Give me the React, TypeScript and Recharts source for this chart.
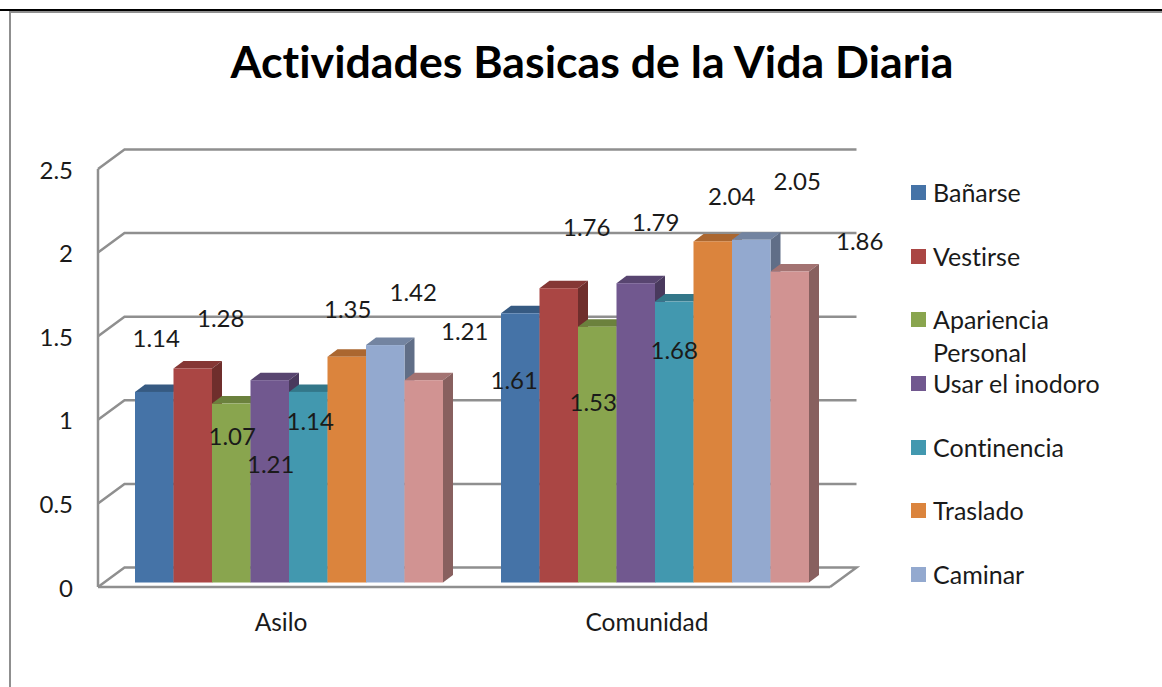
import { Bar, CartesianGrid, ComposedChart, LabelList, Legend, XAxis, YAxis } from "recharts";

const categories = ["Asilo", "Comunidad"];
const yTicks = [0, 0.5, 1, 1.5, 2, 2.5];

const banarse = [1.14, 1.61];
const vestirse = [1.28, 1.76];
const apariencia = [1.07, 1.53];
const inodoro = [1.21, 1.79];
const continencia = [1.14, 1.68];
const traslado = [1.35, 2.04];
const caminar = [1.42, 2.05];
// eighth series: its legend entry is cut off in the original
const sinNombre = [1.21, 1.86];

const seriesNames = ["Bañarse", "Vestirse", "Apariencia Personal", "Usar el inodoro", "Continencia", "Traslado", "Caminar", "Otra"];
const seriesValues = [banarse, vestirse, apariencia, inodoro, continencia, traslado, caminar, sinNombre];
const seriesColors = ["#4573A7", "#AA4644", "#89A54E", "#71588F", "#4298AF", "#DB843D", "#93A9CF", "#D19392"];

const chartData = categories.map((name, c) => {
  const row: Record<string, string | number> = { name };
  seriesNames.forEach((s, i) => {
    row[s] = seriesValues[i][c];
  });
  return row;
});

// the data labels were dragged by hand in the original, so each has its own nudge from the bar top
const labelNudges = [
  [[2, -53], [-6, 67]],
  [[28, -50], [28, -61]],
  [[1, 33], [-4, 76]],
  [[1, 84], [20, -61]],
  [[2, 30], [0, 49]],
  [[1, -47], [19, -45]],
  [[28, -53], [46, -58]],
  [[41, -49], [70, -30]],
];

const WIDTH = 1162;
const HEIGHT = 687;
const margin = { top: 169, right: 32, bottom: 70, left: 0 };
const LEGEND_W = 300;
const FONT = "Lato, sans-serif";
const TEXT = "#1a1a1a";
const GRID = "#8f8f8f";

// 3d look: wall depth and bar depth
const WALL_X = 26.5;
const WALL_Y = 19.5;
const BAR_X = 10;
const BAR_Y = 7.5;
const SHIFT_X = 8;
const SHIFT_Y = -4.5;

const shade = (hex: string, k: number) => {
  const n = parseInt(hex.slice(1), 16);
  const c = [n >> 16, (n >> 8) & 255, n & 255].map((v) => Math.round(v * k));
  return `rgb(${c[0]},${c[1]},${c[2]})`;
};

const Bar3D = (props: any) => {
  const { x, y, width, height, fill } = props;
  const l = x + SHIFT_X;
  const t = y + SHIFT_Y;
  const r = l + width;
  const b = t + height;
  return (
    <g>
      <polygon points={`${l},${t} ${l + BAR_X},${t - BAR_Y} ${r + BAR_X},${t - BAR_Y} ${r},${t}`} fill={shade(fill, 0.78)} />
      <polygon points={`${r},${t} ${r + BAR_X},${t - BAR_Y} ${r + BAR_X},${b - BAR_Y} ${r},${b}`} fill={shade(fill, 0.65)} />
      <rect x={l} y={t} width={width} height={height} fill={fill} />
    </g>
  );
};

const gridLine = (props: any) => {
  const { x1, x2, y1 } = props;
  const isFloor = Math.abs(y1 - (HEIGHT - margin.bottom - 30)) < 1;
  const d = `M${x1},${y1} L${x1 + WALL_X},${y1 - WALL_Y} L${x2 + WALL_X},${y1 - WALL_Y}` + (isFloor ? ` L${x2},${y1}` : "");
  return <path key={`${y1}`} d={d} fill="none" stroke={GRID} strokeWidth={2.5} />;
};

const makeLabel = (seriesIndex: number) => (props: any) => {
  const { x, y, width, value, index } = props;
  const [dx, dy] = labelNudges[seriesIndex][index];
  return (
    <text
      x={x + width / 2 + SHIFT_X + dx}
      y={y + SHIFT_Y + dy - 1}
      textAnchor="middle"
      dominantBaseline="central"
      fontFamily={FONT}
      fontSize={24}
      fill={TEXT}
    >
      {value}
    </text>
  );
};

const LegendBox = (props: any) => (
  <div style={{ paddingLeft: 81, fontFamily: FONT, fontSize: 25, color: TEXT }}>
    {(props.payload || [])
      .filter((item: any) => item.type !== "none")
      .map((item: any) => (
        <div key={item.value} style={{ height: 63.67, display: "flex", alignItems: "flex-start" }}>
          <span style={{ width: 15, height: 15, marginTop: 9, marginRight: 7, background: item.color, flex: "none" }} />
          <span style={{ width: 175, lineHeight: "33px", whiteSpace: "normal" }}>{item.value}</span>
        </div>
      ))}
  </div>
);

export default function App() {
  return (
    <div
      style={{
        position: "absolute",
        left: 0,
        top: 0,
        width: WIDTH,
        height: HEIGHT,
        overflow: "hidden",
        background: "#fff",
        fontVariantLigatures: "none",
      }}
    >
      <div style={{ position: "absolute", left: 0, top: 9, width: WIDTH, height: 2, background: "#000" }} />
      <div style={{ position: "absolute", left: 9, top: 11, width: WIDTH - 9, height: 2, background: GRID }} />
      <div style={{ position: "absolute", left: 9, top: 11, width: 2, height: HEIGHT - 11, background: GRID }} />
      <ComposedChart width={WIDTH} height={HEIGHT} data={chartData} margin={margin} barGap={0} barSize={38.5}>
        <text
          x={592}
          y={61}
          textAnchor="middle"
          dominantBaseline="central"
          fontFamily={FONT}
          fontWeight={700}
          fontSize={44.7}
          fill="#000"
        >
          Actividades Basicas de la Vida Diaria
        </text>
        <CartesianGrid vertical={false} horizontal={gridLine} />
        <XAxis
          dataKey="name"
          height={30}
          axisLine={{ stroke: GRID, strokeWidth: 2.5 }}
          tickLine={false}
          tickMargin={21}
          tick={{ fontFamily: FONT, fontSize: 24.5, fill: TEXT }}
        />
        <YAxis
          width={98}
          domain={[0, 2.5]}
          ticks={yTicks}
          axisLine={{ stroke: GRID, strokeWidth: 2.5 }}
          tickLine={false}
          tickMargin={19}
          tick={{ fontFamily: FONT, fontSize: 24, fill: TEXT, dy: 1 }}
        />
        <Legend
          layout="vertical"
          align="right"
          verticalAlign="top"
          width={LEGEND_W}
          itemSorter={null}
          wrapperStyle={{ top: 176 }}
          content={LegendBox}
        />
        {seriesNames.map((s, i) => (
          <Bar
            key={s}
            dataKey={s}
            fill={seriesColors[i]}
            shape={Bar3D}
            legendType={i === 7 ? "none" : "square"}
            isAnimationActive={false}
          >
            <LabelList dataKey={s} content={makeLabel(i)} />
          </Bar>
        ))}
      </ComposedChart>
    </div>
  );
}
